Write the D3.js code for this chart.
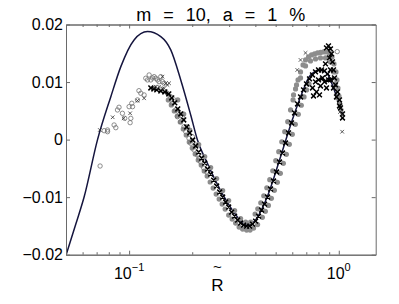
<!DOCTYPE html>
<html><head><meta charset="utf-8">
<script src="https://cdn.jsdelivr.net/npm/d3@7"></script>
<style>html,body{margin:0;padding:0;background:#fff;} svg{display:block;font-family:"Liberation Sans",Arial,Helvetica,sans-serif;}</style>
</head><body><svg id="c" width="399" height="304"></svg>
<script>
// ---- data (R, value) ----
const titleText = "m = 10, a = 1 %";
const yTicks = [-0.02, -0.01, 0, 0.01, 0.02];
const yTickLabels = ["\u22120.02", "\u22120.01", "0", "0.01", "0.02"];
const xTicks = [0.1, 1];
const xTickExp = ["\u22121", "0"];
const xMinor = [0.06, 0.07, 0.08, 0.09, 0.2, 0.3, 0.4, 0.5, 0.6, 0.7, 0.8, 0.9];

// theory curve
const lineR = [0.0500,0.0557,0.0610,0.0707,0.0818,0.0913,0.1056,0.1224,0.1416,0.1580,0.1763,0.1967,0.2118,0.2362,0.2835,0.3283,0.3594,0.3936,0.4560,0.5277,0.600,0.657,0.7331,0.8181,0.8834,0.9435,1.0416];
const lineV = [-0.0201,-0.01468,-0.00998,0,0.00746,0.01268,0.01732,0.01877,0.01790,0.01558,0.01037,0.00428,-0.00007,-0.00412,-0.00993,-0.01343,-0.01485,-0.01428,-0.00993,-0.00297,0.00341,0.00741,0.01123,0.01210,0.01141,0.00897,0.00445];

// open grey circles
const circR = [0.0727,0.0760,0.0789,0.0789,0.0848,0.0864,0.0880,0.0895,0.0929,0.0953,0.1011,0.1019,0.1000,0.1038,0.1030,0.1096,0.1114,0.1137,0.1179,0.1201,0.1224,0.1246,0.1269,0.1293,0.1316,0.1340,0.1365,0.1390,0.1416,0.1442,0.1469,0.1523,0.1580,0.1610,0.1640,0.1669,0.1700,0.1726,0.1763,0.1795,0.1828,0.1862,0.1897,0.1930,0.1967,0.2003,0.2040,0.2078,0.2118,0.2156,0.2195,0.2268,0.2344,0.983];
const circV = [-0.00459,0.00155,0.00137,0.00167,0.00254,0.00207,0.00515,0.00562,0.00457,0.00370,0.00294,0.00370,0.00572,0.00572,0.00631,0.00689,0.00850,0.00805,0.00776,0.01066,0.01037,0.01123,0.01037,0.01071,0.01094,0.01066,0.01037,0.01007,0.01094,0.01007,0.00979,0.00805,0.00746,0.00631,0.00689,0.00515,0.00398,0.00480,0.00311,0.00398,0.00224,0.00137,0.00224,0.00023,-0.00064,0.00050,-0.00181,-0.00094,-0.00268,-0.00320,-0.00390,-0.00494,-0.00563,0.01529];

// sparse x markers
const crossR = [0.0725,0.0835,0.0942,0.1011,0.1096,0.1179,0.1316,0.1340,0.1390,0.1442,0.1469,0.1496,0.1523,0.1551,0.1442,0.634,0.657,0.694,1.038,1.038,1.013];
const crossV = [0.00167,0.00388,0.00370,0.00457,0.00677,0.00718,0.00910,0.00920,0.00920,0.00892,0.00892,0.00979,0.00950,0.00979,0.01094,0.01210,0.01384,0.01506,0.00428,0.00137,0.0048];

// dense black band
const blackR = [0.1269,0.1312,0.1355,0.1416,0.1480,0.1546,0.1597,0.1651,0.1706,0.1763,0.1822,0.1883,0.1946,0.2011,0.2078,0.2148,0.2219,0.2294,0.2369,0.2449,0.2531,0.2615,0.2703,0.2794,0.2887,0.2984,0.3083,0.3186,0.3293,0.3402,0.3516,0.3634,0.3755,0.3881,0.4011,0.4145,0.4284,0.4427,0.4576,0.4729,0.4887,0.5050,0.5219,0.5394,0.5574,0.5761,0.5953,0.6152,0.6358,0.657,0.679,0.7016,0.7252,0.7494,0.7745,0.8004,0.8271,0.8548,0.8834,0.9129,0.9435,0.9751,1.0078,1.0416,
  0.8737,0.8932,0.9129,0.9229,0.9030,0.9332,0.9435,0.9539,0.9645,0.9859,1.0078,1.019,1.0416,
  0.7494,0.7745,0.8004,0.8181,0.8363,0.8548,0.7830,0.7577,0.8737,0.8932,0.9129,0.8642,0.8091];
const blackV = [0.00897,0.00880,0.00863,0.00845,0.00828,0.00793,0.00723,0.00637,0.00532,0.00445,0.00341,0.00219,0.00115,-0.00007,-0.00111,-0.00216,-0.00320,-0.00407,-0.00511,-0.00598,-0.00703,-0.00807,-0.00911,-0.00998,-0.01085,-0.01172,-0.01259,-0.01329,-0.01398,-0.01450,-0.01485,-0.01503,-0.01503,-0.01468,-0.01416,-0.01329,-0.01224,-0.01120,-0.00998,-0.00859,-0.00720,-0.00563,-0.00390,-0.00233,-0.00059,0.00115,0.00289,0.00463,0.00619,0.00741,0.00863,0.00967,0.01054,0.01123,0.01176,0.01210,0.01210,0.01193,0.01141,0.01037,0.00897,0.00741,0.00584,0.00445,
  0.01593,0.01628,0.01576,0.01489,0.01419,0.01350,0.01210,0.01071,0.00950,0.00828,0.00689,0.00550,0.00376,
  0.00897,0.01002,0.01037,0.00932,0.01071,0.01002,0.00828,0.00758,0.00897,0.01037,0.01210,0.01315,0.00776];

// dense grey band
const greyR = [0.1538,0.1589,0.1642,0.1697,0.1753,0.1812,0.1872,0.1935,0.2000,0.2066,0.2136,0.2207,0.2281,0.2356,0.2435,0.2517,0.2601,0.2688,0.2778,0.2871,0.2984,0.3100,0.3221,0.3347,0.3478,0.3634,0.3775,0.3924,0.4100,0.4321,0.4466,0.4617,0.4771,0.4930,0.5094,0.5265,0.5442,0.5623,0.5811,0.6005,0.6206,0.6414,0.6628,0.6828,0.7016,0.7212,
  0.3989,0.4109,0.4246,0.4388,0.4536,0.4687,0.4844,0.5006,0.5173,0.5347,0.5525,0.5709,0.5888,0.6052,0.622,0.6393,0.657,0.6753,0.694,0.7173,0.7412,0.7660,0.7917,0.8181,0.8455,0.8737,0.9030,0.9281,0.9487,0.9698,0.9805,0.9913,1.0023,1.0132,1.0246,
  0.657,0.694,0.7331,0.7745,0.8181,0.8642,0.9129,0.9435,0.9645,0.9859,0.6085,0.6288,
  0.2148,0.2294,0.2449,0.2615,0.2794,0.2984,0.3186,0.3402,0.3594,0.3797,0.1946,0.1822,0.1706];
const greyV = [0.00689,0.00602,0.00497,0.00410,0.00306,0.00184,0.00080,-0.00042,-0.00146,-0.00250,-0.00355,-0.00442,-0.00546,-0.00633,-0.00737,-0.00842,-0.00946,-0.01033,-0.01120,-0.01207,-0.01311,-0.01381,-0.01450,-0.01520,-0.01555,-0.01572,-0.01572,-0.01537,-0.01477,-0.01351,-0.01247,-0.01143,-0.01021,-0.00882,-0.00743,-0.00586,-0.00412,-0.00256,-0.00082,0.00092,0.00266,0.00440,0.00597,0.00741,0.00863,0.00967,
  -0.01294,-0.01202,-0.01097,-0.00976,-0.00837,-0.00697,-0.00541,-0.00367,-0.00210,-0.00037,0.00137,0.00311,0.00515,0.00689,0.00880,0.01037,0.01176,0.01297,0.01384,0.01437,0.01471,0.01489,0.01506,0.01515,0.01523,0.01523,0.01506,0.01437,0.01315,0.01176,0.01037,0.00897,0.00758,0.00619,0.00515,
  0.01071,0.01280,0.01367,0.01402,0.01419,0.01419,0.01350,0.01176,0.00967,0.00723,0.00776,0.00950,
  -0.00085,-0.00294,-0.00485,-0.00677,-0.00885,-0.01059,-0.01233,-0.01372,-0.01433,-0.01433,0.00167,0.00445,0.00689];

// ---- drawing ----
const W = 399, H = 304;
const L = 66, Rr = 375.7, T = 24.5, B = 254.7;
const x = d3.scaleLog().domain([0.05, 1.5]).range([L, Rr]);
const y = d3.scaleLinear().domain([-0.02, 0.02]).range([B, T]);
const axisColor = "#6a6a6a";

const svg = d3.select("#c");
svg.append("rect").attr("width", W).attr("height", H).attr("fill", "#fff");
svg.append("defs").append("clipPath").attr("id", "clip")
  .append("rect").attr("x", L).attr("y", T).attr("width", Rr - L).attr("height", B - T);

const plot = svg.append("g").attr("clip-path", "url(#clip)");

// theory line
plot.append("path")
  .datum(d3.range(lineR.length))
  .attr("d", d3.line().x(i => x(lineR[i])).y(i => y(lineV[i])).curve(d3.curveMonotoneX))
  .attr("fill", "none").attr("stroke", "#15153e").attr("stroke-width", 1.5);

// grey band
plot.append("g").selectAll("circle").data(d3.range(greyR.length)).join("circle")
  .attr("cx", i => x(greyR[i])).attr("cy", i => y(greyV[i])).attr("r", 2.6)
  .attr("fill", "#8d8d8d");

// open circles
plot.append("g").selectAll("circle").data(d3.range(circR.length)).join("circle")
  .attr("cx", i => x(circR[i])).attr("cy", i => y(circV[i])).attr("r", 2.2)
  .attr("fill", "none").attr("stroke", "#707070").attr("stroke-width", 0.8);

const xmark = (cx, cy, s) => `M${cx - s},${cy - s}L${cx + s},${cy + s}M${cx - s},${cy + s}L${cx + s},${cy - s}`;
// black band
plot.append("path")
  .attr("d", blackR.map((r, i) => xmark(x(r), y(blackV[i]), 2.4)).join(""))
  .attr("stroke", "#000").attr("stroke-width", 1.5).attr("fill", "none");
// sparse crosses
plot.append("path")
  .attr("d", crossR.map((r, i) => xmark(x(r), y(crossV[i]), 1.8)).join(""))
  .attr("stroke", "#333").attr("stroke-width", 0.8).attr("fill", "none");

// axes
function styleAxis(g) {
  g.selectAll("path.domain").attr("stroke", axisColor).attr("stroke-width", 1);
  g.selectAll(".tick line").attr("stroke", axisColor).attr("stroke-width", 1);
  g.selectAll("text").attr("fill", "#000").attr("font-size", 16)
    .attr("font-family", '"Liberation Sans",Arial,sans-serif');
}
svg.append("g").attr("transform", `translate(${L},0)`)
  .call(d3.axisLeft(y).tickValues(yTicks).tickSize(-4).tickSizeOuter(0).tickPadding(3)
    .tickFormat((d, i) => yTickLabels[i]))
  .call(styleAxis);
svg.append("g").attr("transform", `translate(${Rr},0)`)
  .call(d3.axisRight(y).tickValues(yTicks).tickSize(-4).tickSizeOuter(0).tickFormat(""))
  .call(styleAxis);
svg.append("g").attr("transform", `translate(0,${B})`)
  .call(d3.axisBottom(x).tickValues(xTicks).tickSize(-4).tickSizeOuter(0).tickFormat(""))
  .call(styleAxis);
svg.append("g").attr("transform", `translate(0,${B})`)
  .call(d3.axisBottom(x).tickValues(xMinor).tickSize(-2.5).tickSizeOuter(0).tickFormat(""))
  .call(styleAxis);
svg.append("g").attr("transform", `translate(0,${T})`)
  .call(d3.axisTop(x).tickValues(xTicks).tickSize(-4).tickSizeOuter(0).tickFormat(""))
  .call(styleAxis);
svg.append("g").attr("transform", `translate(0,${T})`)
  .call(d3.axisTop(x).tickValues(xMinor).tickSize(-2.5).tickSizeOuter(0).tickFormat(""))
  .call(styleAxis);

// x tick labels 10^n
xTicks.forEach((t, i) => {
  const tx = svg.append("text").attr("x", x(t)).attr("y", 279).attr("text-anchor", "middle")
    .attr("font-size", 16).attr("fill", "#000");
  tx.append("tspan").text("10");
  tx.append("tspan").attr("dy", -8).attr("font-size", 11).text(xTickExp[i]);
});

// title
svg.append("text").attr("x", (L + Rr) / 2).attr("y", 20.5).attr("text-anchor", "middle")
  .attr("font-size", 18).attr("fill", "#000").attr("word-spacing", 7)
  .text(titleText);

// x label: R with tilde above it
svg.append("text").attr("x", 217.5).attr("y", 291).attr("text-anchor", "middle")
  .attr("font-size", 17).attr("fill", "#000").text("R");
svg.append("text").attr("x", 217.5).attr("y", 271.5).attr("text-anchor", "middle")
  .attr("font-size", 15).attr("fill", "#000").text("~");
</script>
</body></html>
